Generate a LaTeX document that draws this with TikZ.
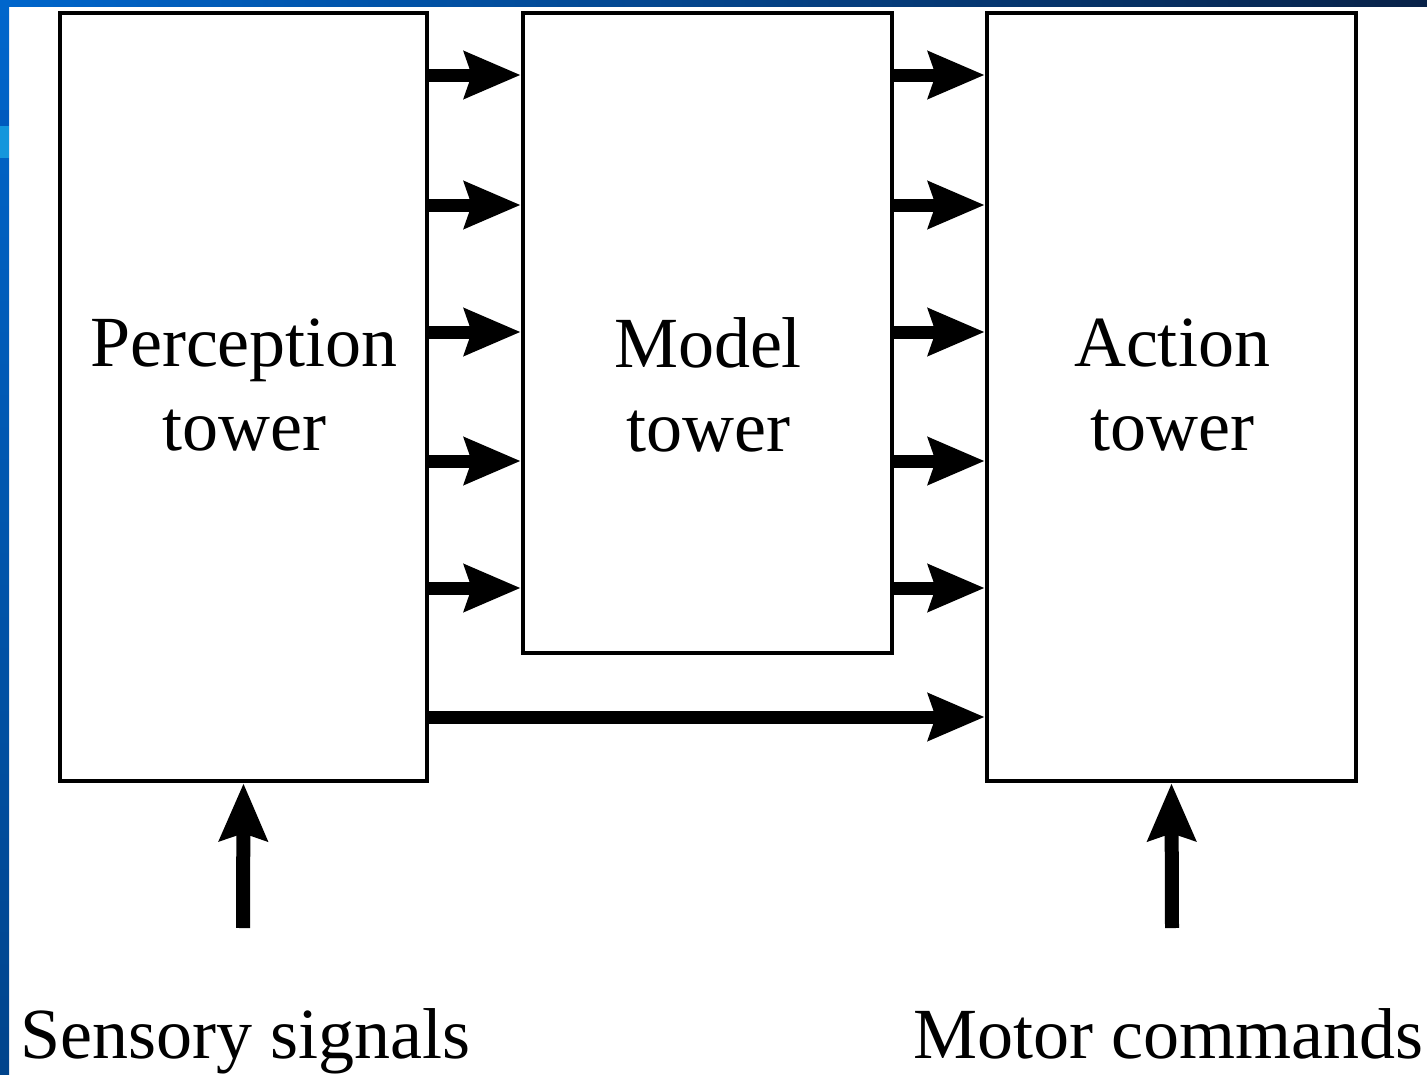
\documentclass[tikz,border=0pt]{standalone}
\usepackage{fontspec}
\setmainfont{Liberation Serif}
\usetikzlibrary{arrows.meta}
\definecolor{blueA}{RGB}{0,102,204}
\definecolor{navy}{RGB}{8,34,72}
\definecolor{blueB}{RGB}{0,68,140}
\definecolor{lightB}{RGB}{20,150,220}
\definecolor{midB}{RGB}{0,90,190}
\begin{document}
\begin{tikzpicture}[x=1pt,y=-1pt,
  tower/.style={draw=black, line width=4.5pt, fill=white, inner sep=0pt},
  lbl/.style={align=center, font=\fontsize{72}{84}\selectfont, inner sep=0pt},
  big/.style={font=\fontsize{72}{84}\selectfont, inner sep=0pt},
  flow/.style={line width=13pt, -{Stealth[length=56pt,width=46pt,inset=7pt]}},
  upflow/.style={line width=14pt, -{Stealth[length=57pt,width=47pt,inset=7pt]}}]
\useasboundingbox (0,0) rectangle (1427,1074);
\fill[white] (0,0) rectangle (1427,1074);
% blue frame strips
\shade[left color=blueA, right color=navy] (0,0) rectangle (1427,6);
\shade[top color=blueA, bottom color=blueB] (0,0) rectangle (9,1074);
\fill[midB] (0,110) rectangle (9,126);
\fill[lightB] (0,126) rectangle (9,158);
% towers
\node[tower, minimum width=367pt, minimum height=768pt] (P) at (243.5,397) {};
\node[tower, minimum width=369pt, minimum height=640pt] (M) at (707.5,333) {};
\node[tower, minimum width=369pt, minimum height=768pt] (A) at (1171.5,397) {};
\node[lbl] (Pt) at (244,385) {Perception\\tower};
\node[lbl] (Mt) at (708,385) {Model\\tower};
\node[lbl] (At) at (1172,385) {Action\\tower};
% flows
\foreach \y in {75,205,332,461,588} {
  \draw[flow] (P.east |- 0,\y) -- (M.west |- 0,\y);
  \draw[flow] (M.east |- 0,\y) -- (A.west |- 0,\y);
}
\draw[flow] (P.east |- 0,717) -- (A.west |- 0,717);
% inputs / outputs
\node[big, anchor=base west] (S) at (20,1058) {Sensory signals};
\node[big, anchor=base east] (C) at (1424,1058) {Motor commands};
\coordinate (s0) at (243,928);
\coordinate (c0) at (1172,928);
\draw[upflow] (s0) -- (P.south);
\draw[upflow] (c0) -- (A.south);
\end{tikzpicture}
\end{document}
